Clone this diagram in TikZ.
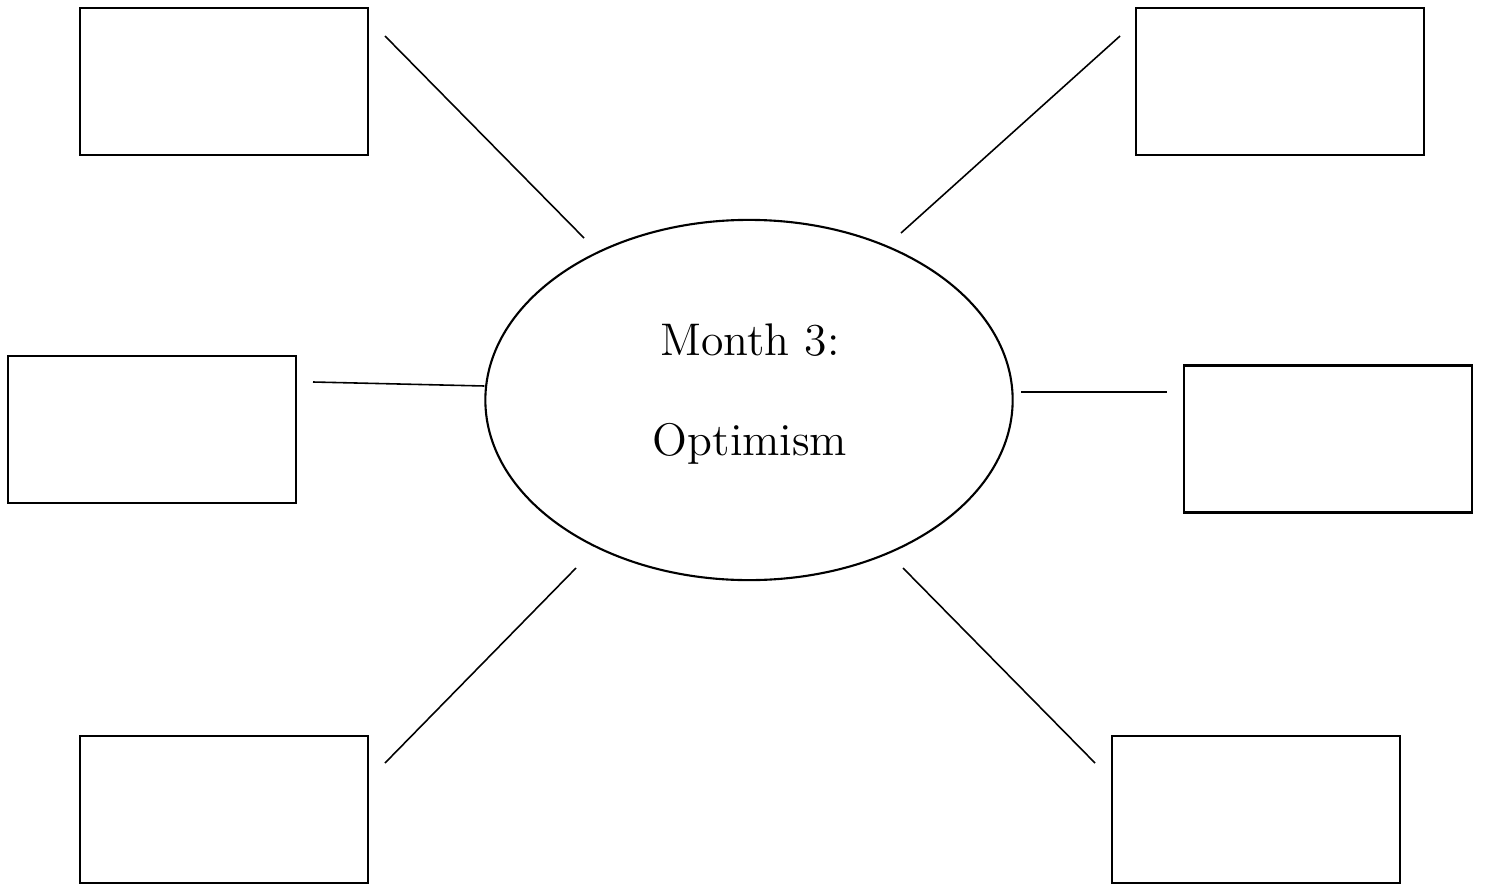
\documentclass[tikz,border=0pt]{standalone}
\usepackage{tikz}
\usetikzlibrary{shapes.geometric}

\begin{document}
\begin{tikzpicture}[x=0.01cm,y=-0.01cm,line width=0.6pt]
    %
    % `blank' is used for the empty boxes round the topic.
    % `topic' is used for the ellipse in the middle, `title' for its text.
    \tikzstyle{blank} = [draw,fill=white,minimum width=2.88cm,minimum height=1.47cm,inner sep=0pt]
    \tikzstyle{topic} = [draw,shape=ellipse,minimum width=5.27cm,minimum height=3.6cm,inner sep=0pt]
    \tikzstyle{title} = [align=center,font=\fontsize{13}{28.5}\selectfont]
    \tikzstyle{spoke} = [line width=0.45pt]
    %
    \useasboundingbox (0,0) rectangle (1486,888);
    %
    % Topic
    \node[topic] (month) at (749,400) {};
    \node[title] (name) at (750,394) {Month 3:\\Optimism};
    %
    % Boxes
    \node[blank] (boxtl) at (224,81.5) {};
    \node[blank] (boxtr) at (1280,81.5) {};
    \node[blank] (boxml) at (152,429.5) {};
    \node[blank] (boxmr) at (1328,439) {};
    \node[blank] (boxbl) at (224,809.5) {};
    \node[blank] (boxbr) at (1256,809.5) {};
    %
    % Spoke ends
    \coordinate (tl1) at (385,36);   \coordinate (tl2) at (584,238);
    \coordinate (tr1) at (1120,36);  \coordinate (tr2) at (901,233);
    \coordinate (ml1) at (313,382);  \coordinate (ml2) at (month.west);
    \coordinate (mr1) at (1021,392); \coordinate (mr2) at (1167,392);
    \coordinate (bl1) at (576,568);  \coordinate (bl2) at (385,763);
    \coordinate (br1) at (903,568);  \coordinate (br2) at (1095,763);
    %
    % Spokes
    \draw[spoke] (tl1) -- (tl2);
    \draw[spoke] (tr1) -- (tr2);
    \draw[spoke] (ml1) -- ([yshift=0.14cm]ml2);
    \draw[spoke] (mr1) -- (mr2);
    \draw[spoke] (bl1) -- (bl2);
    \draw[spoke] (br1) -- (br2);
    %
\end{tikzpicture}
\end{document}
